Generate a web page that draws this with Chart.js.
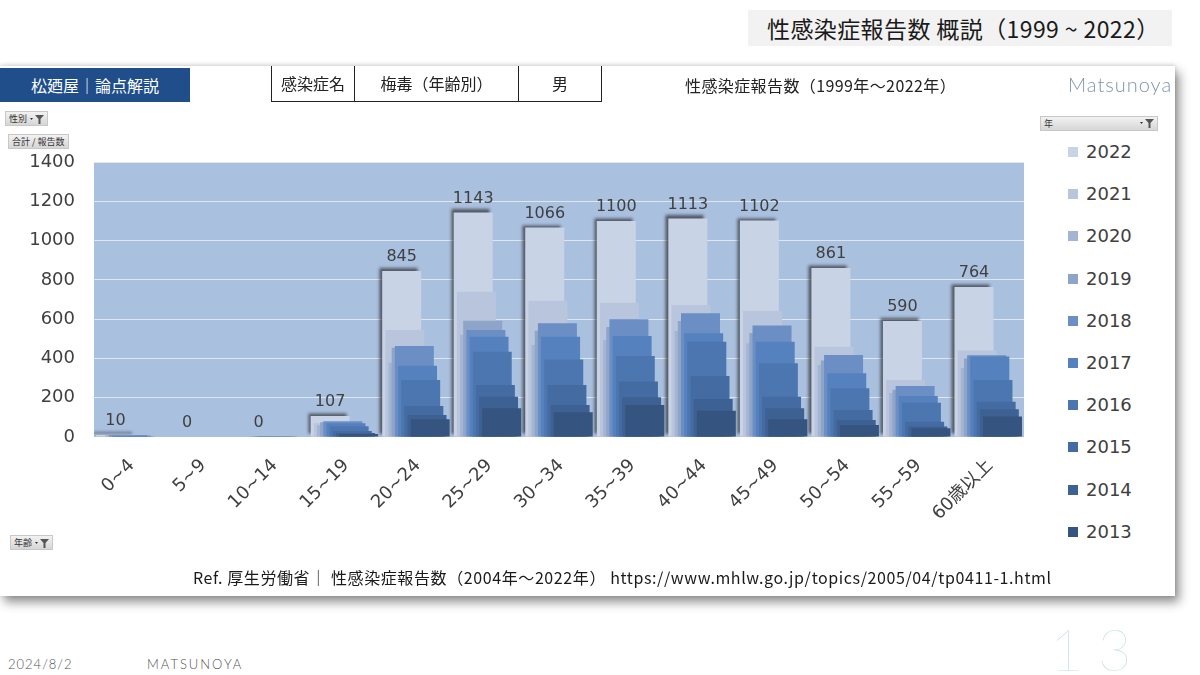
<!DOCTYPE html>
<html lang="ja">
<head>
<meta charset="utf-8">
<title>性感染症報告数 梅毒（年齢別） 男</title>
<script src="https://cdn.jsdelivr.net/npm/chart.js@4.4.1/dist/chart.umd.min.js"></script>
<style>
  body { margin: 0; width: 1200px; height: 675px; background: #fff; position: relative; overflow: hidden;
         font-family: "Noto Sans CJK JP", sans-serif; color: #222; }
  .abs { position: absolute; white-space: nowrap; }
  #pageTitle { left: 748px; top: 10px; width: 424px; height: 36px; background: #f2f2f2; font-size: 23px;
               line-height: 36px; padding-left: 19px; box-sizing: border-box; color: #1a1a1a; letter-spacing: 0.4px; }
  #card { left: 0; top: 66px; width: 1175px; height: 530px; background: #fff;
          box-shadow: 4px 6px 10px rgba(0,0,0,0.45), 0 -1px 4px rgba(0,0,0,0.15); }
  #brand { left: 0; top: 68px; width: 190px; height: 34px; background: #1f4e8a; color: #fff;
           font-size: 16px; line-height: 34px; text-align: center; }
  #info { left: 271px; top: 66px; height: 35px; display: flex; border: 1.5px solid #222; border-top: none; }
  #info div { font-size: 16px; line-height: 35px; text-align: center; }
  #info div + div { border-left: 1.5px solid #222; }
  #subTitle { left: 685px; top: 73px; font-size: 16px; letter-spacing: 0.4px; }
  #sign { left: 1068px; top: 72px; font-family: Lato, sans-serif; font-weight: 300; font-size: 20px;
          letter-spacing: 1px; color: #8092ab; }
  .btn { background: linear-gradient(#f2f2f2, #d6d6d6); border: 1px solid #c8c8c8; font-size: 9px;
         height: 13px; line-height: 13px; padding: 0 3px; color: #333; box-sizing: content-box; }
  .btn svg { vertical-align: middle; margin-left: 3px; }
  #legend { left: 1062px; top: 131px; }
  #legend .item { height: 42.2px; line-height: 42.2px; font-family: "DejaVu Sans", sans-serif;
                  font-size: 18px; color: #404040; }
  #legend .sw { display: inline-block; width: 10px; height: 10px; margin: 0 8px 0 6px; vertical-align: 1px; }
  #note { left: 193px; top: 565px; font-size: 16px; color: #1a1a1a; letter-spacing: 0.6px; }
  #date { left: 8px; top: 656px; font-family: Lato, sans-serif; font-weight: 300; font-size: 13px; color: #555; letter-spacing: 1px; }
  #maker { left: 147px; top: 656px; font-family: Lato, sans-serif; font-weight: 300; font-size: 13px; color: #555; letter-spacing: 2px; }
  #page { left: 1050px; top: 614px; font-family: Lato, sans-serif; font-weight: 100; font-size: 58px; color: #c6dfe2; letter-spacing: 14px; }
  #chart { position: absolute; left: 0; top: 66px; }
</style>
</head>
<body>
<div id="pageTitle" class="abs">性感染症報告数 概説（1999 ~ 2022）</div>
<div id="card" class="abs"></div>
<canvas id="chart" width="1040" height="530"></canvas>
<div id="brand" class="abs">松廼屋｜論点解説</div>
<div id="info" class="abs">
  <div style="width:82px">感染症名</div>
  <div style="width:163px">梅毒（年齢別）</div>
  <div style="width:82px">男</div>
</div>
<div id="subTitle" class="abs">性感染症報告数（1999年～2022年）</div>
<div id="sign" class="abs">Matsunoya</div>
<div class="abs btn" style="left:5px;top:111px">性別<svg width="14" height="9" viewBox="0 0 14 9"><path d="M0 3h3l-1.5 2z" fill="#333"/><path d="M5 0h9l-3.5 4v5h-2v-5z" fill="#555"/></svg></div>
<div class="abs btn" style="left:8px;top:134px">合計 / 報告数</div>
<div class="abs btn" style="left:1040px;top:116px;width:110px">年<svg style="float:right;margin-top:2px" width="14" height="9" viewBox="0 0 14 9"><path d="M0 3h3l-1.5 2z" fill="#333"/><path d="M5 0h9l-3.5 4v5h-2v-5z" fill="#555"/></svg></div>
<div class="abs btn" style="left:10px;top:535px">年齢<svg width="14" height="9" viewBox="0 0 14 9"><path d="M0 3h3l-1.5 2z" fill="#333"/><path d="M5 0h9l-3.5 4v5h-2v-5z" fill="#555"/></svg></div>
<div id="legend" class="abs"></div>
<div id="note" class="abs">Ref. 厚生労働省｜ 性感染症報告数（2004年～2022年） https://www.mhlw.go.jp/topics/2005/04/tp0411-1.html</div>
<div id="date" class="abs">2024/8/2</div>
<div id="maker" class="abs">MATSUNOYA</div>
<div id="page" class="abs">13</div>
<script>
// 年齢階級
var ageGroups = ['0~4', '5~9', '10~14', '15~19', '20~24', '25~29', '30~34',
                 '35~39', '40~44', '45~49', '50~54', '55~59', '60歳以上'];
var years = ['2022', '2021', '2020', '2019', '2018', '2017', '2016', '2015', '2014', '2013'];

// 報告数（男）
var y2022 = [10, 0, 0, 107, 845, 1143, 1066, 1100, 1113, 1102, 861, 590, 764];
var y2021 = [5, 0, 1, 70, 545, 740, 694, 684, 672, 641, 460, 290, 440];
var y2020 = [3, 0, 1, 60, 378, 520, 468, 494, 540, 477, 367, 224, 351];
var y2019 = [8, 0, 1, 75, 455, 592, 541, 560, 590, 530, 390, 240, 400];
var y2018 = [9, 0, 1, 80, 463, 545, 579, 599, 630, 568, 418, 260, 416];
var y2017 = [6, 0, 1, 70, 363, 511, 511, 514, 528, 485, 324, 209, 410];
var y2016 = [4, 0, 1, 55, 290, 434, 395, 412, 485, 375, 248, 175, 290];
var y2015 = [2, 0, 0, 30, 158, 265, 265, 282, 310, 205, 137, 78, 180];
var y2014 = [3, 0, 0, 20, 112, 205, 163, 202, 193, 146, 87, 53, 141];
var y2013 = [2, 0, 0, 15, 90, 146, 126, 163, 134, 90, 61, 44, 104];

var yTicks = [0, 200, 400, 600, 800, 1000, 1200, 1400];

var seriesValues = [y2022, y2021, y2020, y2019, y2018, y2017, y2016, y2015, y2014, y2013];
var seriesColors = ['#c9d3e6', '#b9c5dd', '#a4b4d3', '#8fa4c9', '#6b8ec4', '#5582be',
                    '#4c76b0', '#456ca2', '#3e6194', '#35547f'];

var tickFont = '"DejaVu Sans", "Noto Sans CJK JP", sans-serif';

var datasets = [];
for (var i in years) {
  datasets.push({
    label: years[i],
    data: seriesValues[i],
    backgroundColor: seriesColors[i],
    borderWidth: 0
  });
}

// plot background
var plotBg = {
  id: 'plotBg',
  beforeDraw: function (chart) {
    var a = chart.chartArea, ctx = chart.ctx;
    ctx.save();
    ctx.fillStyle = '#aac0df';
    ctx.fillRect(a.left, a.top, a.right - a.left, a.bottom - a.top);
    ctx.restore();
  }
};

// oldest year in front: draw 2022 first, 2013 last
var cascade = {
  id: 'cascade',
  beforeDatasetsDraw: function (chart) {
    var a = chart.chartArea, ctx = chart.ctx;
    var metas = chart.getSortedVisibleDatasetMetas();
    ctx.save();
    ctx.beginPath();
    ctx.rect(a.left, a.top - 30, a.right - a.left, a.bottom - a.top + 30);
    ctx.clip();
    metas.forEach(function (m) {
      ctx.save();
      if (m.index === 0) {
        ctx.shadowColor = 'rgba(30,30,30,0.65)';
        ctx.shadowBlur = 3;
        ctx.shadowOffsetX = -3;
        ctx.shadowOffsetY = -3;
      }
      m.controller.draw();
      ctx.restore();
    });
    ctx.restore();
    return false;
  },
  afterDraw: function (chart) {
    var ctx = chart.ctx;
    var meta = chart.getDatasetMeta(0);
    ctx.save();
    ctx.font = '16px ' + tickFont;
    ctx.fillStyle = '#404040';
    ctx.textAlign = 'center';
    ctx.textBaseline = 'bottom';
    meta.data.forEach(function (bar, j) {
      ctx.fillText(String(y2022[j]), bar.x, bar.y - 6);
    });
    ctx.restore();
  }
};

var ctx = document.getElementById('chart').getContext('2d');
var myChart = new Chart(ctx, {
  type: 'bar',
  data: {
    labels: ageGroups,
    datasets: datasets
  },
  options: {
    responsive: false,
    animation: false,
    layout: { padding: { left: 0, right: 16, top: 96, bottom: 0 } },
    categoryPercentage: 0.443,
    barPercentage: 12.3,
    plugins: {
      legend: { display: false },
      tooltip: { enabled: false }
    },
    scales: {
      x: {
        grid: { display: false },
        border: { display: false },
        ticks: {
          color: '#404040',
          font: { family: tickFont, size: 18 },
          minRotation: 45,
          maxRotation: 45,
          padding: 10,
          labelOffset: 2
        },
        afterFit: function (scale) { scale.height = 159; }
      },
      y: {
        min: 0,
        max: 1400,
        afterBuildTicks: function (scale) {
          scale.ticks = yTicks.map(function (v) { return { value: v }; });
        },
        grid: { color: 'rgba(255,255,255,0.6)', lineWidth: 1, drawTicks: false },
        border: { display: false },
        ticks: {
          color: '#404040',
          font: { family: tickFont, size: 18 },
          padding: 19,
          callback: function (v) { return String(v); }
        },
        afterFit: function (scale) { scale.width = 94; }
      }
    }
  },
  plugins: [plotBg, cascade]
});

// legend built from the chart's own legend items
var items = Chart.defaults.plugins.legend.labels.generateLabels(myChart);
var box = document.getElementById('legend');
items.forEach(function (it) {
  var row = document.createElement('div');
  row.className = 'item';
  var sw = document.createElement('span');
  sw.className = 'sw';
  sw.style.background = it.fillStyle;
  row.appendChild(sw);
  row.appendChild(document.createTextNode(it.text));
  box.appendChild(row);
});
</script>
</body>
</html>
